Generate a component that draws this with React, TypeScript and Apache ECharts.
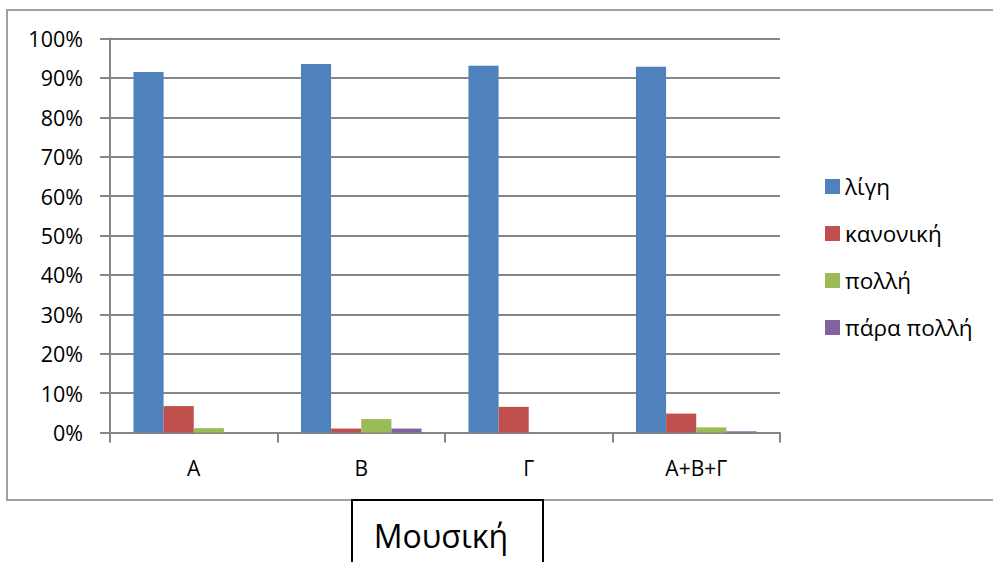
import React, { useEffect, useRef } from "react";
import * as echarts from "echarts";

const categories = ["A", "B", "Γ", "A+B+Γ"];
const seriesNames = ["λίγη", "κανονική", "πολλή", "πάρα πολλή"];
const ligi = [91.5, 93.5, 93.1, 92.8];
const kanoniki = [6.7, 1.0, 6.5, 4.8];
const polli = [1.1, 3.4, 0, 1.3];
const paraPolli = [0, 1.0, 0, 0.3];
const colors = ["#4F81BD", "#C0504D", "#9BBB59", "#8064A2"];
const title = "Μουσική";

export default function App() {
  const ref = useRef<HTMLDivElement>(null);
  useEffect(() => {
    if (!ref.current) return;
    const chart = echarts.init(ref.current, undefined, { renderer: "svg" });
    const font = "'Open Sans', 'DejaVu Sans', sans-serif";
    const values = [ligi, kanoniki, polli, paraPolli];
    chart.setOption({
      animation: false,
      backgroundColor: "#ffffff",
      color: colors,
      textStyle: { fontFamily: font },
      graphic: [
        {
          type: "rect",
          z: -10,
          shape: { x: 7, y: 10, width: 1010, height: 490 },
          style: { fill: "none", stroke: "#a0a0a0", lineWidth: 2 },
          silent: true,
        },
        {
          type: "rect",
          z: 10,
          shape: { x: 352, y: 500, width: 191, height: 90 },
          style: { fill: "#ffffff", stroke: "#000000", lineWidth: 2 },
          silent: true,
        },
        {
          type: "text",
          z: 11,
          x: 441,
          y: 535,
          style: {
            text: title,
            fontSize: 32,
            fontFamily: font,
            fill: "#000000",
            align: "center",
            verticalAlign: "middle",
          },
        },
      ],
      legend: {
        orient: "vertical",
        left: 820,
        top: 170,
        itemWidth: 15,
        itemHeight: 15,
        itemGap: 24,
        icon: "rect",
        textStyle: { fontSize: 22.5, fontFamily: font, color: "#000" },
        data: seriesNames,
      },
      grid: { left: 110, right: 213, top: 38.5, bottom: 129.5, containLabel: false },
      xAxis: {
        type: "category",
        data: categories,
        axisLine: { show: true, lineStyle: { color: "#868686", width: 2 } },
        axisTick: { show: true, length: 10, alignWithLabel: false, lineStyle: { color: "#868686", width: 2 } },
        axisLabel: { fontSize: 21, color: "#000", margin: 25, fontFamily: font },
        splitLine: { show: false },
      },
      yAxis: {
        type: "value",
        min: 0,
        max: 100,
        interval: 10,
        axisLine: { show: true, lineStyle: { color: "#868686", width: 2 } },
        axisTick: { show: true, length: 10, lineStyle: { color: "#868686", width: 2 } },
        axisLabel: { fontSize: 21.5, color: "#000", margin: 27, fontFamily: font, formatter: "{value}%" },
        splitLine: { show: true, lineStyle: { color: "#868686", width: 2 } },
      },
      series: seriesNames.map((name, i) => ({
        name,
        type: "bar",
        data: values[i],
        barGap: "0%",
        barCategoryGap: "28%",
        itemStyle: { color: colors[i] },
      })),
    });
    return () => chart.dispose();
  }, []);
  return (
    <div
      ref={ref}
      style={{ position: "fixed", left: 0, top: 0, width: 993, height: 562, background: "#fff" }}
    />
  );
}
